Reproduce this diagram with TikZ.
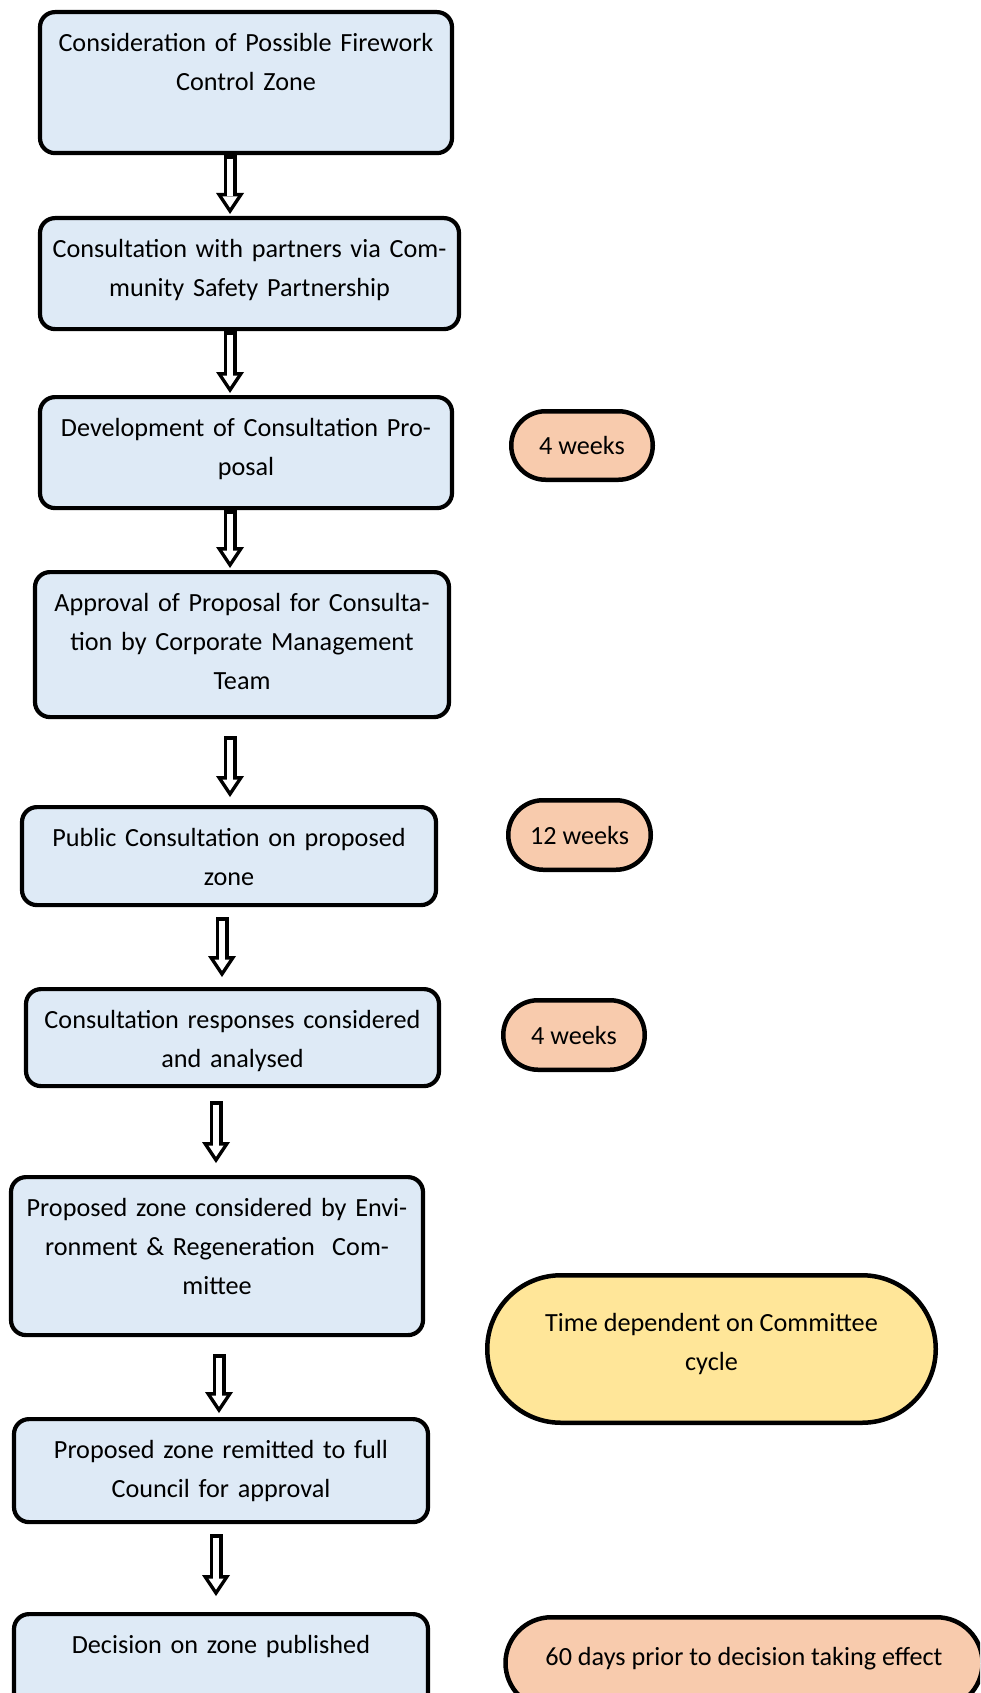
\documentclass[tikz,border=0pt]{standalone}
\usepackage{fontspec}
\setmainfont{Carlito}
\usetikzlibrary{arrows.meta,shapes.misc}
\definecolor{boxblue}{RGB}{222,234,246}
\definecolor{peach}{RGB}{248,203,173}
\definecolor{cyclegold}{RGB}{255,230,153}
\tikzset{font=\fontsize{26.2pt}{39pt}\selectfont}
\tikzset{stage/.style={draw,line width=4.2pt,rounded corners=15pt,fill=boxblue,anchor=north,inner sep=0pt,text height=39pt,align=center}}
\tikzset{span/.style={rounded rectangle,draw,line width=4.5pt,fill=peach,inner sep=0pt,align=center}}
\tikzset{flow/.style 2 args={line width=13pt,shorten <=#1,shorten >=#2,-{Triangle[width=28pt,length=21pt,line width=0pt]},postaction={draw=white,line width=6pt,shorten <=#1+3.5pt,shorten >=#2+6.3pt,-{Triangle[width=15pt,length=11.2pt,line width=0pt]}}}}

\begin{document}
\begin{tikzpicture}[x=1pt,y=-1pt]
\useasboundingbox (0,0) rectangle (980,1693);
\clip (0,0) rectangle (980,1693);
\node[stage,text width=412pt,text depth=102pt] (s1) at (246,10) {Consideration of Possible Firework\\Control Zone};
\node[stage,text width=419pt,text depth=72pt] (s2) at (249.5,216) {Consultation with partners via Com-\\munity Safety Partnership};
\node[stage,text width=412pt,text depth=72pt] (s3) at (246,395) {Development of Consultation Pro-\\posal};
\node[stage,text width=414pt,text depth=106pt] (s4) at (242,570) {Approval of Proposal for Consulta-\\tion by Corporate Management\\Team};
\node[stage,text width=414pt,text depth=59pt] (s5) at (229,805) {Public Consultation on proposed\\zone};
\node[stage,text width=413pt,text depth=58pt] (s6) at (232.5,987) {Consultation responses considered\\and analysed};
\node[stage,text width=412pt,text depth=119pt] (s7) at (217,1175) {Proposed zone considered by Envi-\\ronment \& Regeneration\ \ Com-\\mittee};
\node[stage,text width=414pt,text depth=64pt] (s8) at (221,1417) {Proposed zone remitted to full\\Council for approval};
\node[stage,text width=414pt,text depth=100pt] (s9) at (221,1612) {Decision on zone published};
\node[span,minimum width=141.5pt,minimum height=68.5pt] (w1) at (582,445.5) {4 weeks};
\node[span,minimum width=142.5pt,minimum height=69.5pt] (w2) at (579.5,835) {12 weeks};
\node[span,minimum width=141.5pt,minimum height=69.5pt] (w3) at (574,1035) {4 weeks};
\node[span,fill=cyclegold,minimum width=448.5pt,minimum height=147.5pt,text depth=15pt] (w4) at (711.5,1349) {Time dependent on Committee\\cycle};
\node[span,minimum width=477pt,minimum height=91.5pt,text depth=14pt] (w5) at (744,1663) {60 days prior to decision taking effect};
\draw[flow={0pt}{2pt}] (s1.south -| 230,0) -- (s2.north -| 230,0);
\draw[flow={0pt}{2pt}] (s2.south -| 230,0) -- (s3.north -| 230,0);
\draw[flow={0pt}{2pt}] (s3.south -| 230,0) -- (s4.north -| 230,0);
\draw[flow={17pt}{8pt}] (s4.south -| 230,0) -- (s5.north -| 230,0);
\draw[flow={10pt}{10pt}] (s5.south -| 222,0) -- (s6.north -| 222,0);
\draw[flow={13pt}{12pt}] (s6.south -| 216,0) -- (s7.north -| 216,0);
\draw[flow={17pt}{4pt}] (s7.south -| 219,0) -- (s8.north -| 219,0);
\draw[flow={10pt}{16pt}] (s8.south -| 216,0) -- (s9.north -| 216,0);
\end{tikzpicture}
\end{document}
